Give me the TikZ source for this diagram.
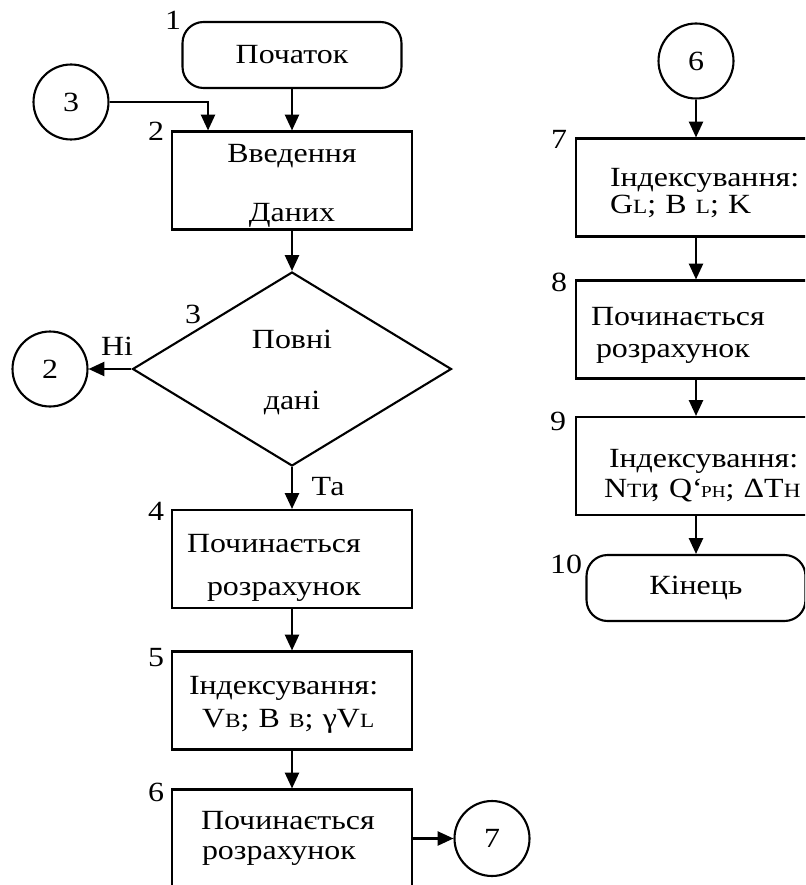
\documentclass[tikz,border=0pt]{standalone}
\usepackage{fontspec}
\setmainfont{Liberation Serif}[FakeStretch=1.15]
\usetikzlibrary{arrows.meta,positioning,shapes.geometric}

% small index letters, set on the base line
\newcommand{\lowidx}[1]{{\fontsize{11.5}{13}\selectfont #1}}
\newcommand{\tinyidx}[1]{{\fontsize{9.5}{11}\selectfont #1}}
% invisible rule that pushes the text of a block a little down
\newcommand{\sinkrule}[1]{\rule{0pt}{#1}}

\begin{document}
\begin{tikzpicture}[x=0.02cm, y=-0.02cm, >={Triangle[length=9pt,width=8pt]}, line width=1.2pt,
  every node/.style={font=\fontsize{15.8}{19}\selectfont},
  box/.style={draw, rectangle, text width=4.8cm, inner xsep=0pt, inner ysep=0pt, minimum height=1.96cm, align=left},
  term/.style={draw, rectangle, rounded corners=0.42cm, minimum width=4.38cm, minimum height=1.32cm},
  conn/.style={draw, circle, minimum size=1.5cm, inner sep=0pt},
  test/.style={draw, diamond, minimum width=6.38cm, minimum height=3.88cm, inner sep=0pt, align=center}]
  \useasboundingbox (0,0) rectangle (805,885);
  \clip (0,0) rectangle (805,885);

  % Left column
  \node[term] (start) at (292,55) {Початок};
  \node[box, align=center] (b2) at (292,180.5) {\sinkrule{16.4pt}Введення\\[14.4pt]Даних};
  \node[test] (dec) at (292,369) {\sinkrule{14.2pt}Повні\\[15.6pt]дані};
  \node[box] (b4) at (292,559) {\hspace*{0.3cm}\sinkrule{20.4pt}Починається\\[5.9pt]\hspace*{0.7cm}розрахунок};
  \node[box] (b5) at (292,700.5) {\hspace*{0.34cm}\sinkrule{15.3pt}Індексування:\\[0.3pt]\hspace*{0.6cm}V\lowidx{B}; B \lowidx{B}; γV\lowidx{L}};
  \node[box] (b6) at (292,838.5) {\hspace*{0.58cm}Починається\\[-2pt]\hspace*{0.6cm}розрахунок};
  \node[conn] (c3) at (71,102) {3};
  \node[conn] (c2) at (50,369) {2};
  \node[conn] (c7) at (492,838.5) {7};

  % Right column
  \node[conn] (c6) at (696,61) {6};
  \node[box] (b7) at (696,187.5) {\hspace*{0.68cm}\sinkrule{16.7pt}Індексування:\\[-4pt]\hspace*{0.68cm}G\lowidx{L}; B \lowidx{L}; K};
  \node[box] (b8) at (696,329.5) {\hspace*{0.3cm}\sinkrule{17pt}Починається\\[-0.3pt]\hspace*{0.4cm}розрахунок};
  \node[box] (b9) at (696,466) {\hspace*{0.66cm}\sinkrule{21.4pt}Індексування:\\[-1.5pt]\hspace*{0.56cm}N\lowidx{ТИ}\kern-4pt; Q‘\kern-1pt\tinyidx{РН}; ΔT\lowidx{Н}};
  \node[term] (end) at (696,588) {Кінець};

  % Block numbers
  \node (n1) at (173,20) {1};
  \node (n2) at (156,131) {2};
  \node (n3) at (193,314) {3};
  \node (n4) at (156,511) {4};
  \node (n5) at (156,658) {5};
  \node (n6) at (156,792) {6};
  \node (n7) at (559,139) {7};
  \node (n8) at (559,282) {8};
  \node (n9) at (558,421) {9};
  \node (n10) at (566,564) {10};
  \node (no) at (117,346) {Ні};
  \node (yes) at (328,487) {Та};

  % Connectors
  \coordinate (b2in) at ([xshift=-1.68cm]b2.north);
  \draw[->] (start) -- (b2);
  \draw[->] (c3) -| (b2in);
  \draw[->] (b2) -- (dec);
  \draw[->] (dec.west) -- (c2);
  \draw[->] (dec) -- (b4);
  \draw[->] (b4) -- (b5);
  \draw[->] (b5) -- (b6);
  \draw[->] (b6) -- (c7);
  \draw[->] (c6) -- (b7);
  \draw[->] (b7) -- (b8);
  \draw[->] (b8) -- (b9);
  \draw[->] (b9) -- (end);
\end{tikzpicture}
\end{document}
